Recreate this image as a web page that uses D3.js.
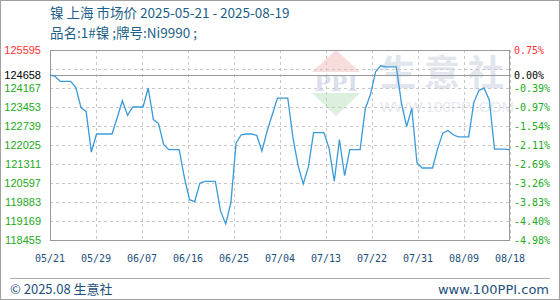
<!DOCTYPE html>
<html><head><meta charset="utf-8">
<script src="https://cdn.jsdelivr.net/npm/d3@7"></script>
<style>
html,body{margin:0;padding:0;background:#fff;}
svg{display:block;}
</style></head>
<body>
<svg id="c" width="560" height="300"></svg>
<script>
// ---- data ----
const titleText = "镍 上海 市场价 2025-05-21 - 2025-08-19";
const subtitleText = "品名:1#镍 ;牌号:Ni9990 ;";
const prices = [
124658,124600,124415,124415,124415,124180,123430,123280,121760,122438,
122438,122438,122438,123050,123690,123140,123453,123453,123453,124167,
122980,122830,122040,121850,121850,121850,120800,119970,119900,120590,
120660,120660,120660,119540,119060,119860,122090,122410,122438,122438,
122390,121800,122540,123160,123790,123790,123790,122300,121250,120560,
121210,122490,122490,122490,121900,120670,122230,120870,121850,121850,
121850,123390,123920,124780,125000,124960,124960,124960,123600,122720,
123400,121360,121160,121160,121160,121890,122470,122570,122410,122330,
122330,122330,123620,124080,124160,123710,121870,121870,121870,121840
];
const baseValue = 124658;
const yTickValues = [125595,124658,124167,123453,122739,122025,121311,120597,119883,119169,118455];
const yTickPct = ["0.75%","0.00%","-0.39%","-0.97%","-1.54%","-2.11%","-2.69%","-3.26%","-3.83%","-4.40%","-4.98%"];
const gridValues = [125595,124881,124167,123453,122739,122025,121311,120597,119883,119169,118455];
const xTickLabels = ["05/21","05/29","06/07","06/16","06/25","07/04","07/13","07/22","07/31","08/09","08/18"];

// ---- layout ----
const L = 50, R = 510, T = 50, B = 240;
const svg = d3.select("#c");
const x = d3.scaleLinear().domain([0, prices.length - 1]).range([L, R]);
const y = d3.scaleLinear().domain([118455, 125595]).range([B, T]);
const xg = d3.scaleLinear().domain([0, xTickLabels.length - 1]).range([L, R]);

// outer frame
svg.append("rect").attr("x",0.5).attr("y",0.5).attr("width",559).attr("height",299)
  .attr("fill","none").attr("stroke","#a0a0a0");

// titles
svg.append("text").attr("x",50).attr("y",18).attr("fill","#1d5f8a")
  .attr("font-family","'Noto Sans CJK SC', 'DejaVu Sans', sans-serif").attr("font-size",13.5)
  .text(titleText);
svg.append("text").attr("x",50).attr("y",38).attr("fill","#1d5f8a")
  .attr("font-family","'Noto Sans CJK SC', 'DejaVu Sans', sans-serif").attr("font-size",13.5)
  .text(subtitleText);

// watermark
const wm = svg.append("g");
wm.append("path").attr("d","M336,50 L360,72 L312,72 Z").attr("fill","#f9dcdc");
wm.append("path").attr("d","M312,93 L360,93 L336,116 Z").attr("fill","#dcf0de");
wm.append("text").attr("x",336).attr("y",91).attr("text-anchor","middle")
  .attr("font-family","'DejaVu Serif', serif").attr("font-weight","bold").attr("font-size",22)
  .attr("fill","#d9dfec").text("PPI");
wm.append("text").attr("x",446).attr("y",86).attr("text-anchor","middle")
  .attr("font-family","'Noto Sans CJK SC', sans-serif").attr("font-weight","bold").attr("font-size",36)
  .attr("letter-spacing",8).attr("fill","#e0e5ee").text("生意社");
wm.append("text").attr("x",447).attr("y",112).attr("text-anchor","middle")
  .attr("font-family","'Liberation Sans', Arial, sans-serif").attr("font-size",15)
  .attr("fill","#e6e9ef").text("WWW.100PPI.COM");

// grid
const grid = svg.append("g").attr("stroke","#c8c8c8").attr("stroke-dasharray","3,3").attr("shape-rendering","crispEdges");
grid.selectAll(".hg").data(gridValues).enter().append("line")
  .attr("x1",L).attr("x2",R).attr("y1",d=>Math.round(y(d))+0.5).attr("y2",d=>Math.round(y(d))+0.5);
grid.selectAll(".vg").data(xTickLabels).enter().append("line")
  .attr("y1",T).attr("y2",B).attr("x1",(d,i)=>Math.round(xg(i))+0.5).attr("x2",(d,i)=>Math.round(xg(i))+0.5);

// base line
svg.append("line").attr("x1",L).attr("x2",R)
  .attr("y1",Math.round(y(baseValue))+0.5).attr("y2",Math.round(y(baseValue))+0.5)
  .attr("stroke","#9a9a9a").attr("stroke-width",1.2);

// plot border
svg.append("rect").attr("x",L+0.5).attr("y",T+0.5).attr("width",R-L-1).attr("height",B-T)
  .attr("fill","none").attr("stroke","#999").attr("shape-rendering","crispEdges");

// line
svg.append("path").datum(prices)
  .attr("fill","none").attr("stroke","#3a9ad9").attr("stroke-width",1.3)
  .attr("d", d3.line().x((d,i)=>x(i)).y(d=>y(d)));

// left axis labels
const colorFor = (v)=> v > baseValue ? "#ff3333" : (v === baseValue ? "#000" : "#22aa22");
svg.append("g").selectAll("text").data(yTickValues).enter().append("text")
  .attr("x",41).attr("y",d=>y(d)+4).attr("text-anchor","end")
  .attr("font-family","'Liberation Sans', Arial, sans-serif").attr("font-size",11)
  .attr("fill",d=>colorFor(d)).text(d=>d);
// right axis labels
svg.append("g").selectAll("text").data(yTickValues).enter().append("text")
  .attr("x",514).attr("y",d=>y(d)+4).attr("text-anchor","start")
  .attr("font-family","'DejaVu Sans Mono', monospace").attr("font-size",10)
  .attr("fill",d=>colorFor(d)).text((d,i)=>yTickPct[i]);

// x labels
svg.append("g").selectAll("text").data(xTickLabels).enter().append("text")
  .attr("x",(d,i)=>xg(i)).attr("y",262).attr("text-anchor","middle")
  .attr("font-family","'DejaVu Sans Mono', monospace").attr("font-size",10)
  .attr("fill","#1d4f7a").text(d=>d);

// footer
svg.append("line").attr("x1",10).attr("x2",550).attr("y1",278.5).attr("y2",278.5)
  .attr("stroke","#aaa");
svg.append("text").attr("x",10).attr("y",294)
  .attr("font-family","'Noto Sans CJK SC', 'DejaVu Sans', sans-serif").attr("font-size",13)
  .attr("fill","#1d4f7a").text("© 2025.08 生意社");
svg.append("text").attr("x",549).attr("y",294).attr("text-anchor","end")
  .attr("font-family","'DejaVu Sans', sans-serif").attr("font-size",13)
  .attr("fill","#1d4f7a").text("www.100PPI.com");
</script>
</body></html>
